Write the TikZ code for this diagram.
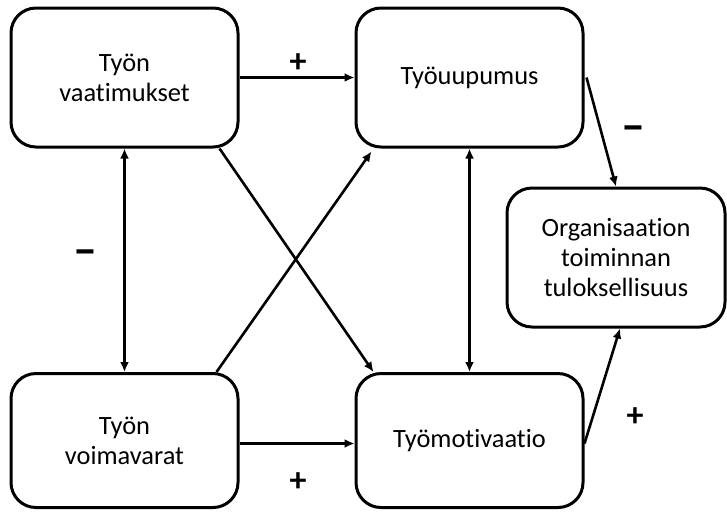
\documentclass[tikz,border=0pt]{standalone}
\usepackage{fontspec}
\setmainfont{Carlito}[Ligatures={TeX,NoCommon}]
\usetikzlibrary{arrows.meta}

\tikzset{
  laatikko/.style={draw, line width=1.5pt, rounded corners=12.5pt, align=center,
    minimum width=113.5pt, minimum height=69.5pt, font=\fontsize{13.2}{15}\selectfont},
  nuoli/.style={line width=1.3pt, -{Latex[length=5pt,width=4.5pt]}},
  kaksoisnuoli/.style={line width=1.3pt, {Latex[length=5pt,width=4.5pt]}-{Latex[length=5pt,width=4.5pt]}},
  plus/.style={font=\fontsize{17}{17}\selectfont\bfseries},
  miinus/.style={font=\fontsize{24}{24}\selectfont\bfseries}
}

\begin{document}
\begin{tikzpicture}[x=0.5pt, y=-0.5pt]
\useasboundingbox (0,0) rectangle (727,511);
\node[laatikko] (vaat) at (124.5,77.5) {Työn\\vaatimukset}; % top left
\node[laatikko] (uup) at (469.5,77.5) {Työuupumus}; % top middle
\node[laatikko, minimum width=109pt] (org) at (616,257.5) {Organisaation\\toiminnan\\tuloksellisuus}; % right
\node[laatikko, minimum height=67pt] (voim) at (124.5,440.5) {Työn\\voimavarat}; % bottom left
\node[laatikko, minimum height=67pt] (mot) at (469.5,440.5) {Työmotivaatio}; % bottom middle
\draw[nuoli] (vaat.east) -- (uup.west); % demands -> burnout
\draw[nuoli] ([yshift=-1.5pt]voim.east) -- ([yshift=-1.5pt]mot.west); % resources -> motivation
\draw[kaksoisnuoli] (vaat.south) -- (voim.north); % left double arrow
\draw[kaksoisnuoli] (uup.south) -- (mot.north); % middle double arrow
\draw[nuoli] ([xshift=-10pt]vaat.south east) -- ([xshift=9.5pt]mot.north west); % cross down
\draw[nuoli] ([xshift=-11.5pt]voim.north east) -- ([xshift=8.5pt,yshift=-1.5pt]uup.south west); % cross up
\draw[nuoli] ([xshift=1pt]uup.east) -- (org.north); % burnout -> performance
\draw[nuoli] ([yshift=-1.5pt]mot.east) -- ([xshift=2pt]org.south); % motivation -> performance
\node[plus] (p1) at (298,63) {+}; % upper plus
\node[plus] (p2) at (298,482) {+}; % lower plus
\node[plus] (p3) at (635,417) {+}; % right plus
\node[miinus] (m1) at (85,258) {–}; % left minus
\node[miinus] (m2) at (633,134) {–}; % right minus
\end{tikzpicture}
\end{document}
